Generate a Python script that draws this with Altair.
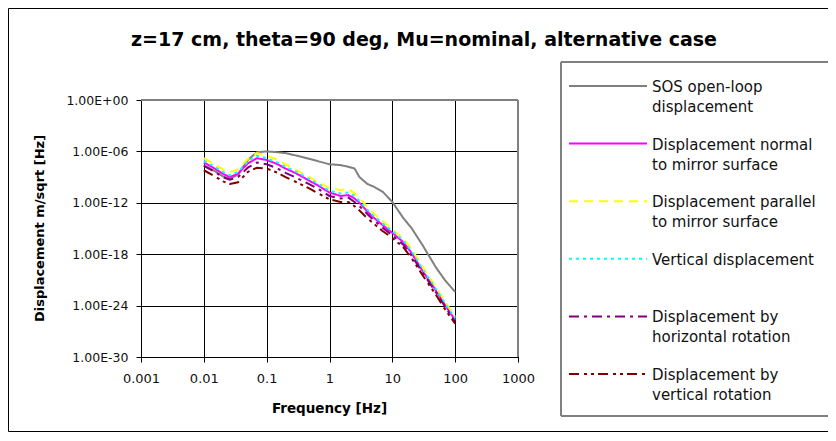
import altair as alt
import pandas as pd

# ---- data (exponents of displacement) ----
freq = [0.01, 0.015, 0.02, 0.026, 0.035, 0.05, 0.07, 0.1, 0.15, 0.2, 0.3, 0.5, 0.7,
        1, 1.5, 2, 2.5, 3, 4, 5, 7, 10, 15, 20, 30, 50, 70, 100]

sos_exp = [-7.6, -8.3, -8.9, -9.2, -8.7, -7.0, -6.1, -6.0, -6.1, -6.2, -6.5, -6.9, -7.2,
           -7.5, -7.6, -7.8, -8.0, -9.0, -9.8, -10.1, -10.7, -11.9, -13.8, -14.9, -16.9, -19.6, -21.1, -22.4]
normal_exp = [-7.3, -8.0, -8.6, -9.0, -8.6, -7.4, -6.8, -7.0, -7.5, -8.0, -8.6, -9.5, -10.1,
              -10.8, -11.2, -11.1, -11.5, -12.0, -13.0, -13.7, -14.6, -15.5, -16.6, -17.8, -19.9, -22.3, -24.0, -25.7]
parallel_exp = [-6.8, -7.5, -8.1, -8.4, -8.1, -6.9, -6.2, -6.5, -7.0, -7.5, -8.2, -9.1, -9.7,
                -10.3, -10.5, -10.4, -10.9, -11.4, -12.5, -13.2, -14.1, -15.1, -16.2, -17.3, -19.4, -21.9, -23.6, -25.3]
vertical_exp = [-7.1, -7.8, -8.4, -8.8, -8.4, -7.2, -6.5, -6.8, -7.3, -7.8, -8.4, -9.3, -9.9,
                -10.6, -10.9, -10.8, -11.2, -11.8, -12.8, -13.5, -14.4, -15.3, -16.4, -17.6, -19.7, -22.1, -23.8, -25.5]
hrot_exp = [-7.7, -8.4, -9.0, -9.3, -9.0, -7.9, -7.3, -7.5, -8.0, -8.5, -9.1, -9.9, -10.5,
            -11.2, -11.5, -11.4, -11.9, -12.4, -13.3, -14.0, -14.9, -15.8, -16.9, -18.1, -20.1, -22.5, -24.2, -25.9]
vrot_exp = [-8.2, -8.9, -9.5, -9.8, -9.6, -8.4, -7.9, -8.0, -8.5, -9.0, -9.6, -10.4, -11.0,
            -11.6, -11.9, -11.9, -12.4, -12.9, -13.8, -14.4, -15.3, -16.1, -17.2, -18.4, -20.4, -22.8, -24.5, -26.1]

series_names = ["SOS open-loop displacement", "Displacement normal to mirror surface",
                "Displacement parallel to mirror surface", "Vertical displacement",
                "Displacement by horizontal rotation", "Displacement by vertical rotation"]
legend_lines = [["SOS open-loop", "displacement"],
                ["Displacement normal", "to mirror surface"],
                ["Displacement parallel", "to mirror surface"],
                ["Vertical displacement"],
                ["Displacement by", "horizontal rotation"],
                ["Displacement by", "vertical rotation"]]
series_exps = [sos_exp, normal_exp, parallel_exp, vertical_exp, hrot_exp, vrot_exp]
colors = ["#808080", "#FF00FF", "#FFFF00", "#00FFFF", "#800080", "#800000"]
dashes = [[1, 0], [1, 0], [9, 6], [3, 4], [10, 5, 3, 5], [10, 5, 3, 4, 3, 4]]

x_ticks = [0.001, 0.01, 0.1, 1, 10, 100, 1000]
y_ticks = [1e-30, 1e-24, 1e-18, 1e-12, 1e-6, 1]

title_text = "z=17 cm, theta=90 deg, Mu=nominal, alternative case"
x_title = "Frequency [Hz]"
y_title = "Displacement m/sqrt [Hz]"

rows = []
for name, exps in zip(series_names, series_exps):
    for f, e in zip(freq, exps):
        rows.append({"series": name, "f": f, "v": 10.0 ** e})
df = pd.DataFrame(rows)

W, H = 377, 257
one = pd.DataFrame({"a": [0]})

y_label_expr = ("'1.00E' + (datum.value >= 1 ? '+' : '-') + "
                "(abs(round(log(datum.value)/LN10)) < 10 ? '0' : '') + "
                "abs(round(log(datum.value)/LN10))")

lines = alt.Chart(df).mark_line(strokeWidth=2, clip=True).encode(
    x=alt.X("f:Q", scale=alt.Scale(type="log", domain=[0.001, 1000], nice=False),
            axis=alt.Axis(values=x_ticks, format="~g", title=None, grid=True,
                          gridColor="black", gridWidth=1, gridOpacity=1,
                          domainColor="black", tickColor="black", tickSize=5,
                          labelPadding=10, labelFont="DejaVu Sans", labelFontSize=13,
                          labelColor="#111111", labelFlush=False)),
    y=alt.Y("v:Q", scale=alt.Scale(type="log", domain=[1e-30, 1], nice=False),
            axis=alt.Axis(values=y_ticks, labelExpr=y_label_expr, title=None, grid=True,
                          gridColor="black", gridWidth=1, gridOpacity=1,
                          domainColor="black", tickColor="black", tickSize=5,
                          labelPadding=8, labelFont="DejaVu Sans", labelFontSize=12.5,
                          labelColor="#111111", labelFlush=False)),
    color=alt.Color("series:N", scale=alt.Scale(domain=series_names, range=colors), legend=None),
    strokeDash=alt.StrokeDash("series:N", scale=alt.Scale(domain=series_names, range=dashes), legend=None),
    order=alt.Order("f:Q"),
)

layers = []

# outer frame (left, top, bottom edges)
layers.append(alt.Chart(one).mark_rule(color="black", strokeWidth=1).encode(
    x=alt.value(-132.5), y=alt.value(-91.5), y2=alt.value(331.5)))
layers.append(alt.Chart(one).mark_rule(color="black", strokeWidth=1).encode(
    x=alt.value(-132.5), x2=alt.value(700), y=alt.value(-91.5)))
layers.append(alt.Chart(one).mark_rule(color="black", strokeWidth=1).encode(
    x=alt.value(-132.5), x2=alt.value(700), y=alt.value(331.5)))

layers.append(lines)

# plot area top/right border (gray)
layers.append(alt.Chart(one).mark_rule(color="#808080", strokeWidth=2).encode(
    x=alt.value(0), x2=alt.value(W), y=alt.value(0)))
layers.append(alt.Chart(one).mark_rule(color="#808080", strokeWidth=2).encode(
    x=alt.value(W), y=alt.value(0), y2=alt.value(H)))

# title and axis titles
layers.append(alt.Chart(one).mark_text(font="DejaVu Sans", fontSize=19, fontWeight="bold",
                                       align="center", baseline="middle", color="black").encode(
    x=alt.value(283), y=alt.value(-60), text=alt.value(title_text)))
layers.append(alt.Chart(one).mark_text(font="DejaVu Sans", fontSize=13, fontWeight="bold",
                                       align="center", baseline="middle", angle=270, color="black").encode(
    x=alt.value(-101), y=alt.value(H / 2), text=alt.value(y_title)))
layers.append(alt.Chart(one).mark_text(font="DejaVu Sans", fontSize=13.5, fontWeight="bold",
                                       align="center", baseline="middle", color="black").encode(
    x=alt.value(W / 2), y=alt.value(309), text=alt.value(x_title)))

# legend box (left, top, bottom edges; right edge lies beyond the picture)
layers.append(alt.Chart(one).mark_rule(color="#808080", strokeWidth=2).encode(
    x=alt.value(420), y=alt.value(-38), y2=alt.value(316)))
layers.append(alt.Chart(one).mark_rule(color="#808080", strokeWidth=2).encode(
    x=alt.value(420), x2=alt.value(700), y=alt.value(-38)))
layers.append(alt.Chart(one).mark_rule(color="#808080", strokeWidth=2).encode(
    x=alt.value(420), x2=alt.value(700), y=alt.value(316)))

entry_y0, entry_step = -14, 57.6
for i, (lbl, col, dash) in enumerate(zip(legend_lines, colors, dashes)):
    ey = entry_y0 + i * entry_step
    layers.append(alt.Chart(one).mark_rule(color=col, strokeWidth=2, strokeDash=dash).encode(
        x=alt.value(428), x2=alt.value(506), y=alt.value(ey)))
    for j, t in enumerate(lbl):
        layers.append(alt.Chart(one).mark_text(font="DejaVu Sans", fontSize=15, align="left",
                                               baseline="middle", color="#111111").encode(
            x=alt.value(511), y=alt.value(ey + 1 + 20 * j), text=alt.value(t)))

chart = alt.layer(*layers).properties(
    width=W, height=H, autosize="none",
    padding={"left": 133, "top": 92, "right": 310, "bottom": 76},
    background="white",
).configure_view(stroke=None)

chart.save("out.html", embed_options={"renderer": "svg", "actions": False})
